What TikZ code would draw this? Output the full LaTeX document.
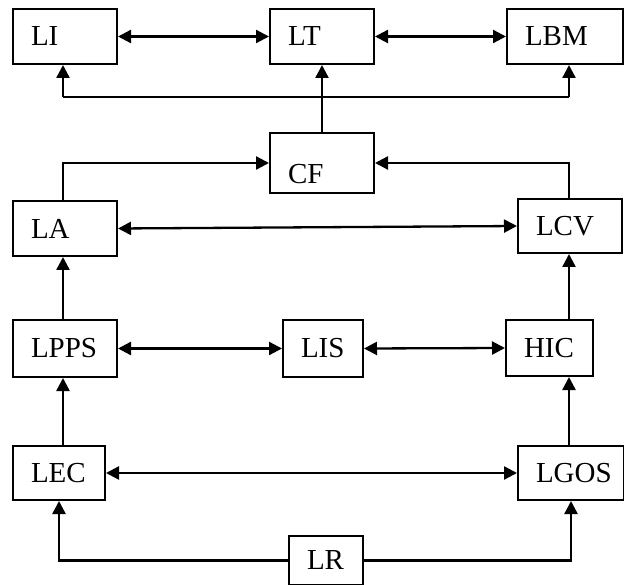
\documentclass[tikz,border=0pt]{standalone}
\usepackage{fontspec}
\setmainfont{Liberation Serif}
\usetikzlibrary{arrows.meta,calc}
\begin{document}
\begin{tikzpicture}[x=1pt,y=-1pt,
  box/.style={draw,line width=2pt,anchor=north west,inner xsep=18pt,inner ysep=0pt,
    align=left,font=\fontsize{29}{30}\selectfont},
  arr/.style={line width=2.3pt,-{Triangle[length=13pt,width=13pt]}},
  darr/.style={line width=2.3pt,{Triangle[length=13pt,width=13pt]}-{Triangle[length=13pt,width=13pt]}},
  ln/.style={line width=2.3pt}]
\useasboundingbox (0,0) rectangle (624,585);
\node[box,text width=68pt,minimum height=55pt] (LI) at (12,8) {LI};
\node[box,text width=68pt,minimum height=55pt] (LT) at (269,8) {LT};
\node[box,text width=80pt,minimum height=55pt] (LBM) at (506,8) {LBM};
\node[box,text width=68pt,minimum height=60pt] (CF) at (269,132) {\raisebox{-11pt}[\height][0pt]{CF}};
\node[box,text width=68pt,minimum height=55pt] (LA) at (12,200) {LA};
\node[box,text width=68pt,minimum height=54pt] (LCV) at (517,198) {LCV};
\node[box,text width=68pt,minimum height=57pt] (LPPS) at (12,319) {LPPS};
\node[box,text width=44pt,minimum height=57pt] (LIS) at (282,319) {LIS};
\node[box,text width=51pt,minimum height=56pt] (HIC) at (505,319) {HIC};
\node[box,text width=56pt,minimum height=54pt] (LEC) at (12,445) {LEC};
\node[box,text width=70pt,minimum height=54pt] (LGOS) at (517,445) {LGOS};
\node[box,text width=38pt,minimum height=49pt] (LR) at (288,535) {LR};
\coordinate (cL) at (63,0);
\coordinate (cR) at (569,0);
\coordinate (bL) at (63,97);
\coordinate (bR) at (569,97);
% top row
\draw[darr] (LI.east) -- (LT.west);
\draw[darr] (LT.east) -- (LBM.west);
\draw[arr] (CF.north) -- (LT.south);
\draw[ln] (bL) -- (bR);
\draw[arr] (bL) -- (LI.south -| bL);
\draw[arr] (bR) -- (LBM.south -| bR);
% CF inputs
\draw[arr] (LA.north -| cL) |- (CF.west);
\draw[arr] (LCV.north -| cR) |- (CF.east);
% middle
\draw[darr] (LA.east) -- (LCV.west);
\draw[arr] (LPPS.north -| cL) -- (LA.south -| cL);
\draw[arr] (HIC.north -| cR) -- (LCV.south -| cR);
\draw[darr] (LPPS.east) -- (LIS.west);
\draw[darr] (LIS.east) -- (HIC.west);
\draw[arr] (LEC.north -| cL) -- (LPPS.south -| cL);
\draw[arr] (LGOS.north -| cR) -- (HIC.south -| cR);
\draw[darr] (LEC.east) -- (LGOS.west);
% bottom
\draw[arr] (LR.west) -| (LEC.south);
\draw[arr] (LR.east) -| (LGOS.south);
\end{tikzpicture}
\end{document}
